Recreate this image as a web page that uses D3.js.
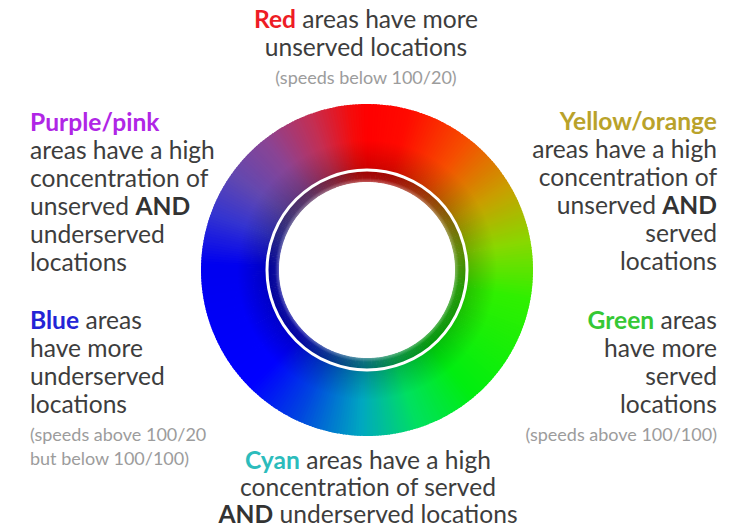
<!DOCTYPE html>
<html>
<head>
<meta charset="utf-8">
<script src="https://cdn.jsdelivr.net/npm/d3@7"></script>
<style>
  html, body { margin: 0; padding: 0; background: #fff; }
  svg { display: block; }
  text { font-family: Lato, "Open Sans", sans-serif; }
</style>
</head>
<body>
<script>

// colour stops around the wheel (degrees clockwise from top)
var stopAngles = [0, 15, 38, 60, 80, 100, 140, 162, 182, 205, 225, 272, 290, 305, 322, 340, 354, 360];
var stopColors = ["#ff0000", "#ff0a00", "#f55000", "#c8a000", "#88d800", "#30f000", "#00ee10", "#00e060",
                  "#00a8c0", "#0045e0", "#0000ff", "#0000f0", "#3434d0", "#6248b0", "#8a4494", "#c42e52", "#f40c0c", "#ff0000"];

// annotation blocks: each line is a list of [text, kind]
var topLines = [
  [["Red", "red"], [" areas have more", "body"]],
  [["unserved locations", "body"]],
  [["(speeds below 100/20)", "note"]]
];
var purpleLines = [
  [["Purple/pink", "purple"]],
  [["areas have a high", "body"]],
  [["concentration of", "body"]],
  [["unserved ", "body"], ["AND", "bold"]],
  [["underserved", "body"]],
  [["locations", "body"]]
];
var yellowLines = [
  [["Yellow/orange", "yellow"]],
  [["areas have a high", "body"]],
  [["concentration of", "body"]],
  [["unserved ", "body"], ["AND", "bold"]],
  [["served", "body"]],
  [["locations", "body"]]
];
var blueLines = [
  [["Blue", "blue"], [" areas", "body"]],
  [["have more", "body"]],
  [["underserved", "body"]],
  [["locations", "body"]],
  [["(speeds above 100/20", "note"]],
  [["but below 100/100)", "note"]]
];
var greenLines = [
  [["Green", "green"], [" areas", "body"]],
  [["have more", "body"]],
  [["served", "body"]],
  [["locations", "body"]],
  [["(speeds above 100/100)", "note"]]
];
var cyanLines = [
  [["Cyan", "cyan"], [" areas have a high", "body"]],
  [["concentration of served", "body"]],
  [["AND", "bold"], [" underserved locations", "body"]]
];

var width = 745,
    height = 530,
    cx = 367,
    cy = 270,
    rOuter = 166,
    rLine = 100,
    rInner = 88;

var kinds = {
  body:   { fill: "#3d3d3d", weight: 400 },
  bold:   { fill: "#333333", weight: 700 },
  note:   { fill: "#9c9c9c", weight: 400 },
  red:    { fill: "#ee1c25", weight: 700 },
  purple: { fill: "#b026e6", weight: 700 },
  yellow: { fill: "#b9a22a", weight: 700 },
  blue:   { fill: "#2424d6", weight: 700 },
  green:  { fill: "#35c835", weight: 700 },
  cyan:   { fill: "#2cbcbc", weight: 700 }
};

var svg = d3.select("body").append("svg")
  .attr("width", width)
  .attr("height", height);

var defs = svg.append("defs");

// darkening near the inside of the outer ring
var shade = defs.append("radialGradient")
  .attr("id", "shade")
  .attr("gradientUnits", "userSpaceOnUse")
  .attr("cx", 0).attr("cy", 0).attr("r", rOuter);
shade.append("stop").attr("offset", rLine / rOuter).attr("stop-color", "#000").attr("stop-opacity", 0.2);
shade.append("stop").attr("offset", 130 / rOuter).attr("stop-color", "#000").attr("stop-opacity", 0);
shade.append("stop").attr("offset", 1).attr("stop-color", "#000").attr("stop-opacity", 0);

// inner band gets a bit lighter towards the centre
var fade = defs.append("radialGradient")
  .attr("id", "fade")
  .attr("gradientUnits", "userSpaceOnUse")
  .attr("cx", 0).attr("cy", 0).attr("r", rLine);
fade.append("stop").attr("offset", rInner / rLine).attr("stop-color", "#fff").attr("stop-opacity", 0.35);
fade.append("stop").attr("offset", (rInner + 4) / rLine).attr("stop-color", "#fff").attr("stop-opacity", 0.05);
fade.append("stop").attr("offset", 1).attr("stop-color", "#fff").attr("stop-opacity", 0);

var color = d3.scaleLinear()
  .domain(stopAngles)
  .range(stopColors)
  .interpolate(d3.interpolateRgb);

var slices = d3.range(0, 360, 1);
var wheel = svg.append("g").attr("transform", `translate(${cx}, ${cy})`);

var outerArc = d3.arc()
  .innerRadius(rLine)
  .outerRadius(rOuter)
  .startAngle(d => d * Math.PI / 180)
  .endAngle(d => (d + 1.4) * Math.PI / 180);

var innerArc = d3.arc()
  .innerRadius(rInner)
  .outerRadius(rLine)
  .startAngle(d => d * Math.PI / 180)
  .endAngle(d => (d + 1.4) * Math.PI / 180);

wheel.selectAll("path.outer")
  .data(slices)
  .enter().append("path")
  .attr("class", "outer")
  .attr("d", outerArc)
  .attr("fill", d => color(d + 0.5));

wheel.append("path")
  .attr("d", d3.arc()({ innerRadius: rLine, outerRadius: rOuter, startAngle: 0, endAngle: 2 * Math.PI }))
  .attr("fill", "url(#shade)");

wheel.selectAll("path.inner")
  .data(slices)
  .enter().append("path")
  .attr("class", "inner")
  .attr("d", innerArc)
  .attr("fill", d => d3.color(color(d + 0.5)).darker(1.3));

wheel.append("path")
  .attr("d", d3.arc()({ innerRadius: rInner, outerRadius: rLine, startAngle: 0, endAngle: 2 * Math.PI }))
  .attr("fill", "url(#fade)");

// white centre and thin white ring between the two bands
wheel.append("circle")
  .attr("r", rInner)
  .attr("fill", "#fff");

wheel.append("circle")
  .attr("r", rLine)
  .attr("fill", "none")
  .attr("stroke", "#fff")
  .attr("stroke-width", 3);

function block(lines, x, y0, anchor, gap) {
  var y = y0;
  lines.forEach(function (line, i) {
    var isNote = line[0][1] === "note";
    var t = svg.append("text")
      .attr("x", x)
      .attr("y", y)
      .attr("text-anchor", anchor)
      .attr("font-size", isNote ? 18 : 24.6);
    line.forEach(function (s) {
      t.append("tspan")
        .text(s[0])
        .attr("fill", kinds[s[1]].fill)
        .attr("font-weight", kinds[s[1]].weight);
    });
    var next = lines[i + 1];
    if (next) y += (next[0][1] === "note") ? (isNote ? 24 : 28) : gap;
  });
}

block(topLines, 366, 28, "middle", 28);
block(purpleLines, 30, 131, "start", 28);
block(yellowLines, 717, 130, "end", 28);
block(blueLines, 30, 329, "start", 28);
block(greenLines, 717, 329, "end", 28);
block(cyanLines, 368, 469, "middle", 27);

</script>
</body>
</html>
